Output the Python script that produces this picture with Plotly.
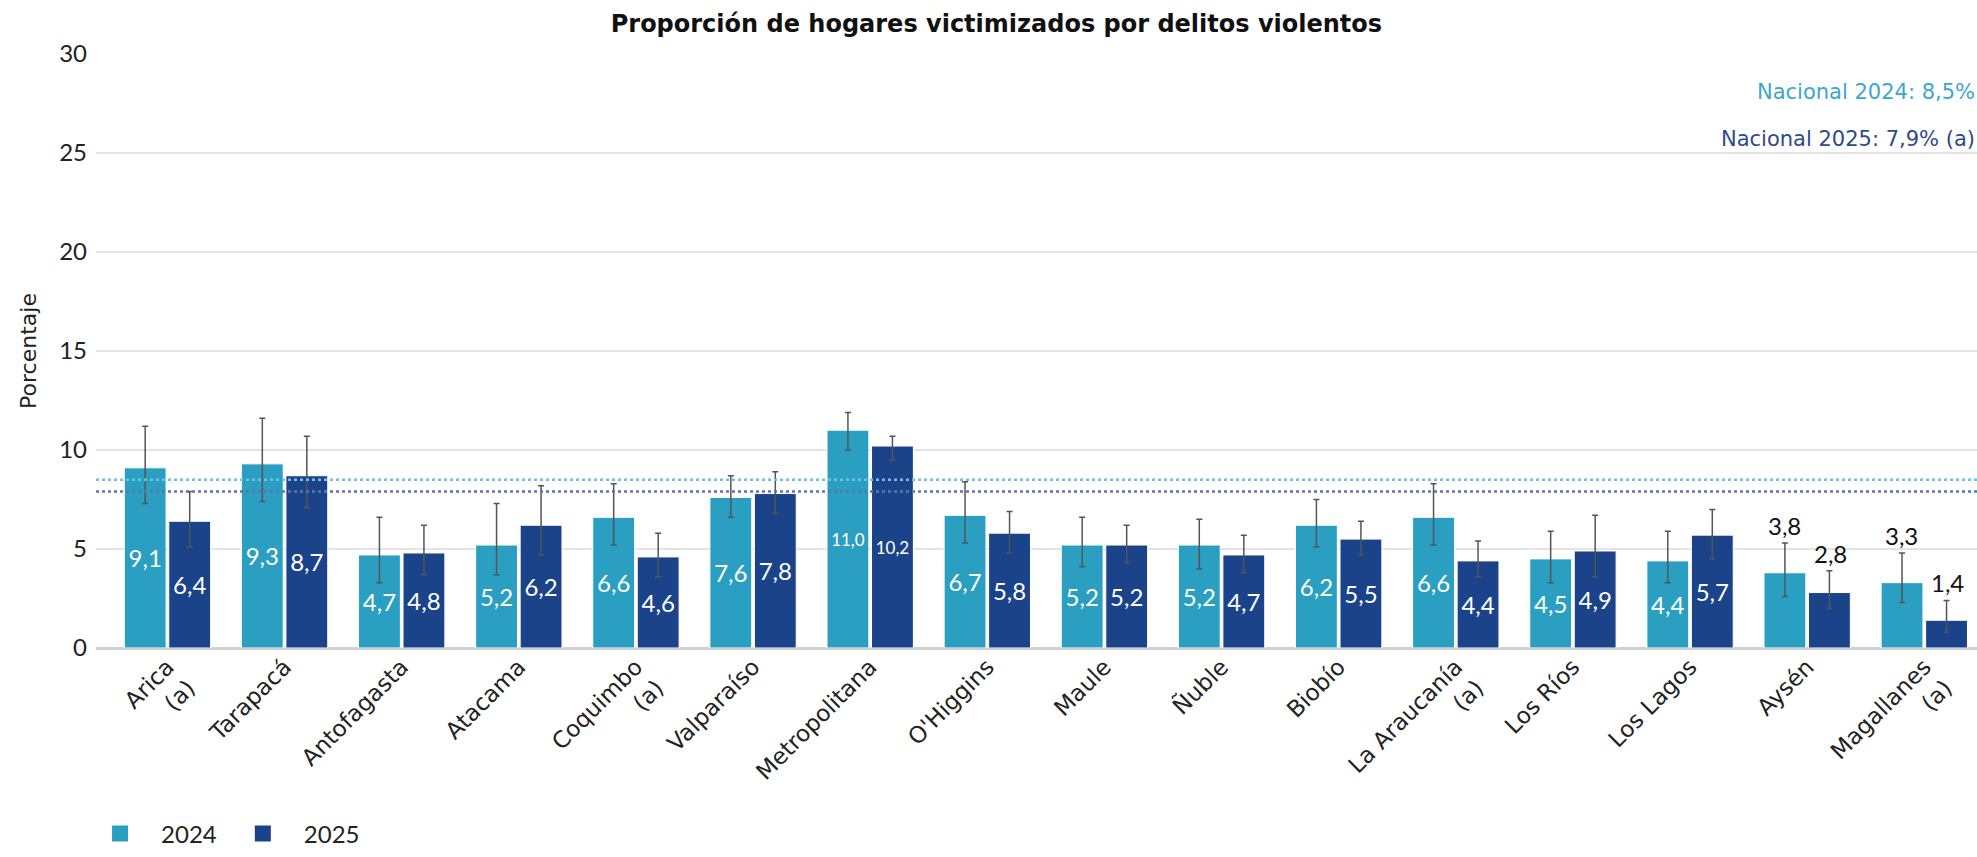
import plotly.graph_objects as go

regiones = ["Arica<br>(a)", "Tarapacá", "Antofagasta", "Atacama", "Coquimbo<br>(a)",
            "Valparaíso", "Metropolitana", "O'Higgins", "Maule", "Ñuble", "Biobío",
            "La Araucanía<br>(a)", "Los Ríos", "Los Lagos", "Aysén", "Magallanes<br>(a)"]

val_2024 = [9.1, 9.3, 4.7, 5.2, 6.6, 7.6, 11.0, 6.7, 5.2, 5.2, 6.2, 6.6, 4.5, 4.4, 3.8, 3.3]
sup_2024 = [11.2, 11.6, 6.6, 7.3, 8.3, 8.7, 11.9, 8.4, 6.6, 6.5, 7.5, 8.3, 5.9, 5.9, 5.3, 4.8]
inf_2024 = [7.3, 7.4, 3.3, 3.7, 5.2, 6.6, 10.0, 5.3, 4.1, 4.0, 5.1, 5.2, 3.3, 3.3, 2.6, 2.3]

val_2025 = [6.4, 8.7, 4.8, 6.2, 4.6, 7.8, 10.2, 5.8, 5.2, 4.7, 5.5, 4.4, 4.9, 5.7, 2.8, 1.4]
sup_2025 = [7.9, 10.7, 6.2, 8.2, 5.8, 8.9, 10.7, 6.9, 6.2, 5.7, 6.4, 5.4, 6.7, 7.0, 3.9, 2.4]
inf_2025 = [5.1, 7.1, 3.7, 4.7, 3.6, 6.8, 9.5, 4.8, 4.3, 3.8, 4.7, 3.6, 3.6, 4.5, 2.0, 0.8]

nacional_2024 = 8.5
nacional_2025 = 7.9

# etiquetas que van sobre la barra de error en vez de dentro
fuera = ["Aysén", "Magallanes<br>(a)"]

NUM_FONT = "Lato"
TXT_FONT = "DejaVu Sans"
C24 = "#2a9fc1"
C25 = "#1b4389"


def fmt(v):
    return f"{v:.1f}".replace(".", ",")


fig = go.Figure()

for name, vals, sup, inf, color in [("2024", val_2024, sup_2024, inf_2024, C24),
                                    ("2025", val_2025, sup_2025, inf_2025, C25)]:
    texts = ["" if r in fuera else fmt(v) for r, v in zip(regiones, vals)]
    sizes = [17 if v >= 10 else 24 for v in vals]
    fig.add_trace(go.Bar(
        x=regiones, y=vals, name=name, showlegend=False,
        marker=dict(color=color, line=dict(color="white", width=1)),
        text=texts, textposition="inside", insidetextanchor="middle",
        textfont=dict(color="white", size=sizes, family=NUM_FONT),
        textangle=0,
        error_y=dict(type="data", symmetric=False,
                     array=[s - v for s, v in zip(sup, vals)],
                     arrayminus=[v - i for v, i in zip(vals, inf)],
                     color="#555555", thickness=1.5, width=3),
    ))
    # entrada de leyenda con cuadrado grande
    fig.add_trace(go.Scatter(x=[None], y=[None], mode="markers", name=name,
                             marker=dict(symbol="square", size=19, color=color)))

    shift = -23 if name == "2024" else 23
    for r, v, s in zip(regiones, vals, sup):
        if r in fuera:
            fig.add_annotation(x=r, y=s, text=fmt(v), showarrow=False,
                               xshift=shift, yshift=1, yanchor="bottom",
                               font=dict(size=24, color="#111111", family=NUM_FONT))

# líneas nacionales
fig.add_hline(y=nacional_2024, line=dict(color="#6cc3df", width=2.5, dash="dot"))
fig.add_hline(y=nacional_2025, line=dict(color="#5a75b0", width=2.5, dash="dot"))

fig.add_annotation(xref="paper", x=1, y=28.1, xanchor="right", showarrow=False,
                   text="Nacional 2024: " + fmt(nacional_2024) + "%",
                   font=dict(size=21, color="#3aa8cc", family=TXT_FONT))
fig.add_annotation(xref="paper", x=1, y=25.7, xanchor="right", showarrow=False,
                   text="Nacional 2025: " + fmt(nacional_2025) + "% (a)",
                   font=dict(size=21, color="#2d4a8c", family=TXT_FONT))

fig.update_layout(
    width=1977, height=857,
    margin=dict(l=96, r=0, t=54, b=196),
    paper_bgcolor="white", plot_bgcolor="white",
    font=dict(family=TXT_FONT, color="#222222"),
    title=dict(text="<b>Proporción de hogares victimizados por delitos violentos</b>",
               x=0.504, xref="container", y=0.973, yref="container", yanchor="middle",
               font=dict(size=24, color="#111111", family=TXT_FONT)),
    barmode="group", bargap=0.24, bargroupgap=0.06,
    showlegend=True,
    legend=dict(orientation="h", x=-0.009, xanchor="left", y=-0.313, yanchor="middle",
                font=dict(size=24, family=NUM_FONT), itemwidth=72, traceorder="normal"),
)

fig.update_xaxes(range=[-0.61, 15.45], tickangle=-45, tickfont=dict(size=23, family=TXT_FONT),
                 showgrid=False, ticks="", showline=False)
fig.update_yaxes(range=[0, 30], dtick=5, tickfont=dict(size=24, family=NUM_FONT),
                 gridcolor="#e4e4e4", gridwidth=1.5,
                 zeroline=True, zerolinecolor="#d0d0d0", zerolinewidth=3,
                 ticklabelstandoff=8,
                 title=dict(text="Porcentaje", font=dict(size=22, family=TXT_FONT), standoff=16))

fig.write_html("out.html", config={"displayModeBar": False},
               post_script="document.body.style.margin='0';")
